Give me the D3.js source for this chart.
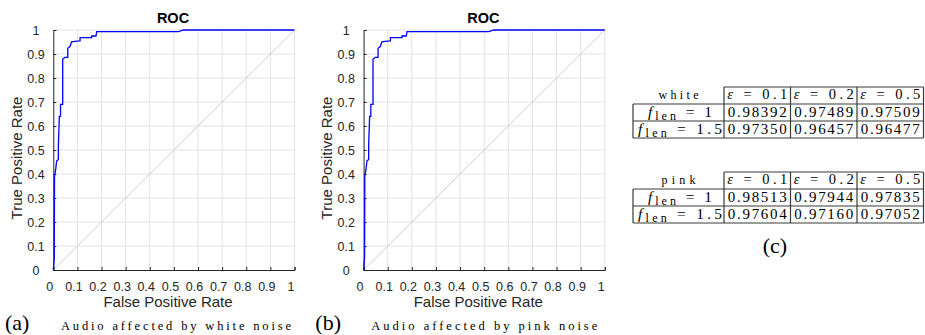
<!DOCTYPE html>
<html>
<head>
<meta charset="utf-8">
<script src="https://cdn.jsdelivr.net/npm/d3@7"></script>
<style>
  body { margin: 0; background: #fff; }
  svg { display: block; }
</style>
</head>
<body>
<script>
// roc curve points
var whiteFpr = [0, 0.004, 0.005, 0.010, 0.014, 0.021, 0.021, 0.025, 0.030, 0.030, 0.039, 0.039, 0.048, 0.060, 0.060, 0.069, 0.076, 0.097, 0.111, 0.111, 0.159, 0.159, 0.177, 0.180, 0.519, 0.540, 1];
var whiteTpr = [0, 0.05, 0.39, 0.42, 0.455, 0.46, 0.52, 0.64, 0.64, 0.69, 0.69, 0.878, 0.886, 0.886, 0.924, 0.931, 0.951, 0.954, 0.955, 0.968, 0.968, 0.975, 0.975, 0.993, 0.993, 1, 1];
var pinkFpr = [0, 0.004, 0.005, 0.010, 0.014, 0.021, 0.021, 0.025, 0.030, 0.030, 0.039, 0.039, 0.048, 0.060, 0.060, 0.069, 0.076, 0.097, 0.111, 0.111, 0.159, 0.159, 0.177, 0.180, 0.519, 0.540, 1];
var pinkTpr = [0, 0.05, 0.39, 0.42, 0.455, 0.46, 0.52, 0.64, 0.64, 0.69, 0.69, 0.878, 0.886, 0.886, 0.924, 0.931, 0.951, 0.954, 0.955, 0.968, 0.968, 0.975, 0.975, 0.993, 0.993, 1, 1];

var tickValues = [0, 0.1, 0.2, 0.3, 0.4, 0.5, 0.6, 0.7, 0.8, 0.9, 1];
var tickLabels = ["0", "0.1", "0.2", "0.3", "0.4", "0.5", "0.6", "0.7", "0.8", "0.9", "1"];

// AUC tables
var epsValues = ["0.1", "0.2", "0.5"];
var flenValues = ["1", "1.5"];
var whiteAuc = [[0.98392, 0.97489, 0.97509], [0.97350, 0.96457, 0.96477]];
var pinkAuc = [[0.98513, 0.97944, 0.97835], [0.97604, 0.97160, 0.97052]];

var sans = "'Liberation Sans', Arial, Helvetica, sans-serif";
var serif = "'Liberation Serif', 'Times New Roman', serif";

var svg = d3.select("body").append("svg").attr("width", 925).attr("height", 335);

function drawRoc(ox, fpr, tpr, letter, caption) {
	var g = svg.append("g").attr("transform", "translate(" + ox + ",0)");
	var x = d3.scaleLinear().domain([0, 1]).range([53.3, 294.5]);
	var y = d3.scaleLinear().domain([0, 1]).range([270, 30]);

	// grid
	g.append("g").selectAll("line").data(tickValues.slice(1)).join("line")
		.attr("x1", d => x(d)).attr("x2", d => x(d))
		.attr("y1", y(0)).attr("y2", y(1))
		.attr("stroke", "#e3e3e3").attr("stroke-width", 1);
	g.append("g").selectAll("line").data(tickValues.slice(1)).join("line")
		.attr("x1", x(0)).attr("x2", x(1))
		.attr("y1", d => y(d)).attr("y2", d => y(d))
		.attr("stroke", "#e3e3e3").attr("stroke-width", 1);

	// chance diagonal
	g.append("line")
		.attr("x1", x(0)).attr("y1", y(0)).attr("x2", x(1)).attr("y2", y(1))
		.attr("stroke", "#cfcfcf").attr("stroke-width", 1);

	// axes, ticks pointing inward
	var xAxis = d3.axisBottom(x).tickValues(tickValues).tickSize(-3).tickFormat("");
	var yAxis = d3.axisLeft(y).tickValues(tickValues).tickSize(-3).tickFormat("");
	var gx = g.append("g").attr("transform", "translate(0," + y(0) + ")").call(xAxis);
	var gy = g.append("g").attr("transform", "translate(" + x(0) + ",0)").call(yAxis);
	[gx, gy].forEach(function(a) {
		a.select(".domain").attr("stroke", "#262626").attr("stroke-width", 1);
		a.selectAll(".tick line").attr("stroke", "#262626");
	});

	g.selectAll(".xlab").data(tickValues).join("text")
		.attr("x", d => x(d) - 3.5).attr("y", 290.5)
		.attr("text-anchor", "middle")
		.attr("font-family", sans).attr("font-size", 12.5).attr("fill", "#262626")
		.text((d, i) => tickLabels[i]);
	g.selectAll(".ylab").data(tickValues).join("text")
		.attr("x", 36).attr("y", d => y(d) + 4.5)
		.attr("text-anchor", "middle")
		.attr("font-family", sans).attr("font-size", 12.5).attr("fill", "#262626")
		.text((d, i) => tickLabels[i]);

	// curve
	var pts = fpr.map((f, i) => [f, tpr[i]]);
	var line = d3.line().x(d => x(d[0])).y(d => y(d[1]));
	g.append("path").datum(pts).attr("d", line)
		.attr("fill", "none").attr("stroke", "#0000ff").attr("stroke-width", 1.3);

	// titles
	g.append("text").attr("x", 173).attr("y", 23).attr("text-anchor", "middle")
		.attr("font-family", sans).attr("font-size", 14.5).attr("font-weight", "bold")
		.attr("fill", "#000").text("ROC");
	g.append("text").attr("x", 168).attr("y", 307).attr("text-anchor", "middle")
		.attr("font-family", sans).attr("font-size", 15).attr("fill", "#262626")
		.text("False Positive Rate");
	g.append("text").attr("transform", "translate(22,158) rotate(-90)")
		.attr("text-anchor", "middle")
		.attr("font-family", sans).attr("font-size", 15).attr("fill", "#262626")
		.text("True Positive Rate");

	// caption
	g.append("text").attr("x", 5).attr("y", 330)
		.attr("font-family", serif).attr("font-size", 22).attr("fill", "#000")
		.text("(" + letter + ")");
	g.append("text").attr("x", 61).attr("y", 329.5)
		.attr("font-family", serif).attr("font-size", 12.5).attr("fill", "#000")
		.attr("textLength", letter == "a" ? 230 : 226).attr("lengthAdjust", "spacing")
		.text(caption);
}

function drawTable(top, name, values) {
	var g = svg.append("g");
	var colX = d3.scaleBand().domain(epsValues).range([724, 923.5]);
	var rowY = d3.scaleBand().domain(["head"].concat(flenValues)).range([top, top + 51]);
	var left = 633, right = 923.5;
	var stroke = "#3a3a3a";

	// horizontal rules
	g.append("line").attr("x1", colX.range()[0]).attr("x2", right)
		.attr("y1", rowY("head")).attr("y2", rowY("head"))
		.attr("stroke", stroke).attr("stroke-width", 1.2);
	g.selectAll(".hr").data(flenValues).join("line")
		.attr("x1", left).attr("x2", right)
		.attr("y1", d => rowY(d)).attr("y2", d => rowY(d))
		.attr("stroke", stroke).attr("stroke-width", 1.2);
	g.append("line").attr("x1", left).attr("x2", right)
		.attr("y1", top + 51).attr("y2", top + 51)
		.attr("stroke", stroke).attr("stroke-width", 1.2);

	// vertical rules
	g.append("line").attr("x1", left).attr("x2", left)
		.attr("y1", rowY(flenValues[0])).attr("y2", top + 51)
		.attr("stroke", stroke).attr("stroke-width", 1.2);
	g.selectAll(".vr").data(epsValues).join("line")
		.attr("x1", d => colX(d)).attr("x2", d => colX(d))
		.attr("y1", top).attr("y2", top + 51)
		.attr("stroke", stroke).attr("stroke-width", 1.2);
	g.append("line").attr("x1", right).attr("x2", right)
		.attr("y1", top).attr("y2", top + 51)
		.attr("stroke", stroke).attr("stroke-width", 1.2);

	var bw = colX.bandwidth();

	// header
	g.append("text").attr("x", 678.5).attr("y", rowY("head") + 12)
		.attr("text-anchor", "middle").attr("font-family", serif).attr("font-size", 12)
		.attr("textLength", name == "white" ? 40 : 34).attr("lengthAdjust", "spacing")
		.text(name);
	epsValues.forEach(function(e) {
		var t = g.append("text").attr("x", colX(e) + bw / 2).attr("y", rowY("head") + 12)
			.attr("text-anchor", "middle").attr("font-family", serif).attr("font-size", 14.5)
			.attr("textLength", 60).attr("lengthAdjust", "spacing");
		t.append("tspan").attr("font-style", "italic").text("ε");
		t.append("tspan").text(" = " + e);
	});

	// rows
	flenValues.forEach(function(f, i) {
		var by = rowY(f) + 12.5;
		var t = g.append("text").attr("x", 680).attr("y", by)
			.attr("text-anchor", "middle").attr("font-family", serif).attr("font-size", 15.5)
			.attr("textLength", f == "1" ? 64 : 84).attr("lengthAdjust", "spacing");
		t.append("tspan").attr("font-style", "italic").text("f");
		t.append("tspan").attr("font-size", 12).attr("dy", 3.5).text("len");
		t.append("tspan").attr("dy", -3.5).text(" = " + f);

		g.selectAll(null).data(values[i]).join("text")
			.attr("x", (d, j) => colX(epsValues[j]) + bw / 2).attr("y", by)
			.attr("text-anchor", "middle").attr("font-family", serif).attr("font-size", 15)
			.attr("textLength", 59).attr("lengthAdjust", "spacing")
			.text(d => d.toFixed(5));
	});
}

drawRoc(0, whiteFpr, whiteTpr, "a", "Audio affected by white noise");
drawRoc(310.3, pinkFpr, pinkTpr, "b", "Audio affected by pink noise");
drawTable(87, "white", whiteAuc);
drawTable(172, "pink", pinkAuc);

svg.append("text").attr("x", 775).attr("y", 253).attr("text-anchor", "middle")
	.attr("font-family", serif).attr("font-size", 22).text("(c)");
</script>
</body>
</html>
